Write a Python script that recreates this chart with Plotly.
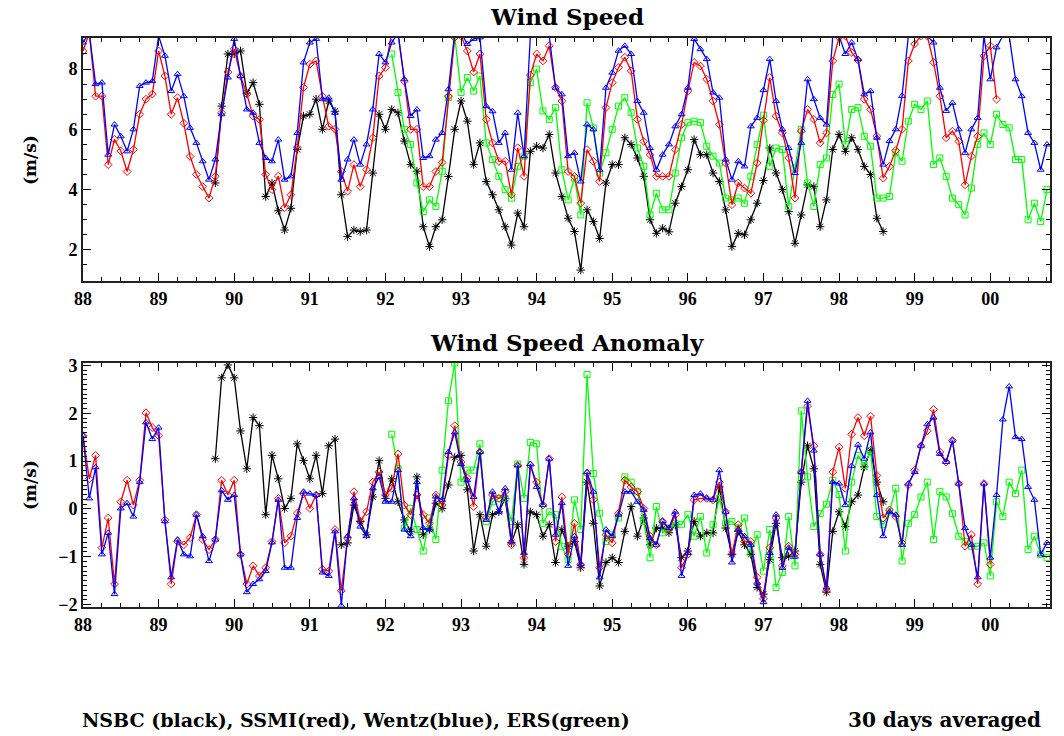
import numpy as np
import plotly.graph_objects as go

# ---------------- data (monthly, decimal-year axis) ----------------
years_ticks = list(range(88, 101))
tick_text = ["88", "89", "90", "91", "92", "93", "94", "95", "96", "97", "98", "99", "00"]

# start times (decimal year, 88 = 1988)
ssmi_start = 88.0
wentz_start = 88.0
nsbc_start = 89.75
ers_start = 92.0 + 1 / 12

# ---- Wind speed (m/s) ----
ssmi_ws = [
    8.6, 9.2, 7.1, 7.1, 4.83, 5.67, 5.28, 4.6, 5.33, 6.5, 7.0, 7.17,
    8.6, 7.77, 6.5, 7.05, 6.2, 5.1, 4.5, 4.1, 3.72, 4.44, 6.55, 7.9,
    8.67, 7.77, 7.17, 6.44, 6.33, 4.5, 4.0, 4.45, 3.4, 3.83, 5.39, 7.39,
    8.16, 8.27, 7.1, 6.1, 6.0, 4.6, 3.95, 4.83, 4.1, 4.66, 5.72, 7.77,
    8.05, 9.2, 9.2, 7.6, 6.0, 6.0, 4.1, 4.1, 4.6, 4.9, 7.1, 9.05,
    9.1, 8.6, 7.9, 8.5, 6.33, 5.55, 4.94, 4.94, 3.83, 5.39, 4.44, 7.8,
    8.5, 8.27, 8.77, 7.39, 6.94, 4.6, 4.44, 3.55, 5.33, 4.94, 4.27, 6.72,
    7.55, 8.05, 8.39, 7.94, 6.33, 5.6, 5.16, 4.44, 4.44, 4.44, 5.33, 6.16,
    7.27, 8.22, 8.1, 7.66, 6.94, 6.16, 4.88, 3.5, 4.22, 4.05, 3.88, 4.88,
    6.3, 7.72, 6.44, 5.88, 5.05, 3.72, 5.94, 6.66, 6.33, 5.55, 5.88, 8.27,
    9.05, 9.1, 8.55, 8.3, 7.0, 6.66, 5.77, 4.38, 4.77, 5.3, 6.0, 8.27,
    8.83, 9.1, 9.1, 8.22, 7.1, 5.72, 5.94, 5.6, 4.16, 5.11, 5.77, 8.44,
    8.77, 7.0,
]
wentz_ws = [
    8.88, 9.2, 7.5, 7.55, 5.16, 6.16, 5.77, 5.27, 6.0, 7.44, 7.55, 7.6,
    9.1, 8.44, 7.27, 7.83, 7.1, 6.05, 5.55, 4.94, 4.33, 5.0, 6.5, 7.72,
    9.0, 7.77, 6.66, 6.55, 5.55, 5.05, 4.94, 5.66, 4.33, 4.44, 5.88, 8.22,
    8.88, 9.0, 7.0, 7.05, 6.55, 4.33, 5.0, 5.66, 4.83, 5.5, 6.66, 8.5,
    8.22, 8.88, 9.2, 7.66, 6.44, 6.66, 5.05, 5.11, 5.66, 5.88, 7.33, 9.2,
    9.2, 8.83, 9.0, 9.05, 6.77, 6.6, 5.55, 5.88, 4.66, 6.55, 5.11, 9.1,
    9.1, 9.1, 9.1, 7.38, 7.16, 5.11, 5.22, 4.27, 6.16, 6.0, 4.66, 7.38,
    7.88, 8.61, 8.77, 8.5, 6.94, 6.55, 5.38, 4.66, 5.16, 5.5, 6.1, 6.5,
    7.38, 9.0, 8.66, 8.33, 7.22, 7.05, 5.0, 4.33, 4.94, 4.77, 6.1, 6.38,
    7.3, 8.33, 6.94, 6.0, 5.38, 4.55, 5.55, 7.66, 7.0, 6.38, 6.16, 9.1,
    9.1, 8.5, 8.88, 8.33, 7.16, 7.27, 5.72, 4.83, 5.61, 6.0, 7.11, 9.1,
    9.1, 9.1, 9.1, 8.88, 7.38, 6.61, 6.88, 6.0, 5.22, 6.0, 6.38, 9.1,
    7.66, 8.72, 9.1, 9.1, 7.66, 7.1, 5.88, 5.55, 4.66, 5.5,
]
nsbc_ws = [
    4.22, 6.77, 8.5,
    8.5, 8.6, 7.2, 7.55, 6.83, 3.77, 4.22, 3.3, 2.66, 3.38, 5.33, 6.44,
    6.5, 7.0, 6.0, 6.94, 6.6, 3.83, 2.44, 2.66, 2.61, 2.66, 4.55, 6.5,
    6.0, 6.66, 6.55, 5.61, 4.83, 4.61, 2.77, 2.11, 2.77, 3.0, 4.44, 6.0,
    6.94, 6.27, 4.83, 5.55, 4.27, 3.83, 3.33, 2.77, 2.16, 3.22, 2.77, 5.27,
    5.44, 5.38, 5.83, 4.55, 3.77, 3.05, 2.61, 1.33, 3.33, 2.94, 2.38, 4.22,
    4.83, 4.83, 5.72, 5.5, 5.05, 4.44, 3.0, 2.55, 2.72, 2.6, 3.55, 4.1,
    4.66, 5.66, 5.16, 5.16, 4.55, 4.27, 3.33, 2.11, 2.55, 2.5, 3.0, 3.55,
    4.3, 5.38, 4.55, 4.0, 3.27, 2.22, 3.16, 4.16, 4.1, 2.77, 3.66, 5.33,
    5.83, 5.27, 5.72, 5.33, 4.77, 4.5, 3.05, 2.61,
]
ers_ws = [
    8.5, 7.22, 6.0, 5.5, 4.22, 3.27, 3.66, 3.44, 4.61, 7.05, 9.1,
    7.22, 7.72, 7.27, 7.77, 5.55, 5.0, 4.44, 4.0, 3.72, 4.77, 5.11, 7.55,
    8.0, 6.61, 6.33, 6.72, 4.66, 3.66, 4.38, 3.16, 6.88, 6.05, 4.55, 5.22,
    6.0, 6.77, 7.05, 6.55, 5.38, 4.77, 3.16, 3.88, 3.33, 3.33, 4.55, 5.72,
    6.22, 6.27, 6.22, 5.44, 5.11, 4.88, 3.72, 3.66, 3.72, 3.55, 4.44, 5.5,
    6.47, 4.77, 5.38, 5.33, 3.44, 4.72, 6.0, 4.22, 3.44, 4.83, 5.05, 7.16,
    7.5, 5.5, 6.66, 6.72, 5.77, 5.44, 3.72, 3.72, 3.77, 5.22, 4.94, 6.27,
    6.83, 6.66, 6.94, 4.83, 5.05, 4.44, 3.72, 3.5, 3.16, 4.05, 5.5, 5.88,
    5.5, 6.5, 6.16, 6.05, 5.0, 5.0, 3.0, 3.55, 2.94, 4.0,
]

# ---- Wind speed anomaly (m/s) ----
ssmi_anom = [
    1.53, 0.63, 1.12, -0.81, -0.19, -1.57, 0.15, 0.6, 0.08, 0.6, 2.01, 1.7,
    1.53, -0.23, -1.57, -0.68, -0.75, -0.6, -0.12, -0.64, -0.85, -0.64, 0.6, 0.29,
    0.6, -0.95, -1.57, -1.19, -1.4, -1.23, -0.68, 0.22, -0.71, -0.57, -0.09, 0.32,
    0.01, 0.29, -1.26, -1.3, -0.43, -1.71, -0.61, 0.36, -0.26, -0.06, 0.56, 0.77,
    0.29, 0.43, 1.15, 0.08, -0.12, 0.29, -0.12, -0.3, 0.29, 0.08, 1.12, 1.74,
    0.98, 0.65, 0.05, 1.19, -0.19, 0.29, 0.22, 0.36, -0.75, 0.91, -1.02, 0.91,
    0.56, 0.08, 1.05, -0.68, 0.25, -0.95, -0.3, -1.16, 0.74, 0.19, -1.23, -0.54,
    -0.71, -0.09, 0.6, 0.46, 0.36, 0.01, -0.57, -0.75, -0.26, -0.43, -0.12, -1.23,
    -0.95, 0.19, 0.22, 0.22, 0.19, 0.56, -0.06, -0.95, -0.33, -0.68, -0.68, -1.43,
    -1.88, -0.81, -0.19, -1.19, -0.78, -0.95, 0.77, 2.15, 1.32, -0.95, -1.71, 0.77,
    1.29, 0.43, 1.56, 1.91, 1.53, 1.94, 0.7, -0.19, -0.02, -0.16, -0.71, 0.5,
    0.81, 1.32, 1.63, 2.08, 1.19, 0.98, 1.43, 0.53, -0.78, -0.54, -1.57, 0.53,
    -1.16,
]
wentz_anom = [
    1.53, 0.22, 0.87, -0.95, -0.5, -1.78, 0.01, 0.12, -0.16, 0.56, 1.81, 1.46,
    1.7, -0.26, -1.43, -0.64, -0.95, -0.99, -0.12, -0.57, -1.09, -0.64, 0.39, 0.19,
    0.29, -0.95, -1.74, -1.57, -1.47, -1.3, -0.7, 0.19, -1.23, -1.23, -0.19, 0.36,
    0.32, 0.29, -1.33, -1.4, -0.47, -2.02, -0.57, 0.22, -0.37, -0.57, 0.43, 0.67,
    0.15, 0.15, 0.81, -0.43, -0.57, 0.56, -0.4, -0.43, 0.26, 0.19, 1.19, 1.6,
    0.94, 0.6, 0.25, 1.19, -0.23, 0.36, -0.06, 0.43, -0.68, 0.91, -0.92, 0.94,
    0.46, 0.08, 1.05, -0.54, 0.12, -1.19, -0.57, -1.16, 0.77, 0.36, -1.43, -0.43,
    -0.57, -0.12, 0.36, 0.36, 0.15, -0.02, -0.61, -0.75, -0.26, -0.4, -0.06, -1.4,
    -0.92, 0.29, 0.32, 0.22, 0.19, 0.81, -0.06, -1.12, -0.43, -0.57, -0.75, -1.54,
    -1.95, -0.92, -0.12, -1.23, -0.81, -1.0, 0.77, 2.26, 1.22, -0.95, -1.64, 0.56,
    0.53, 0.08, 0.9, 1.34, 1.05, 1.6, 0.29, -0.57, -0.06, -0.12, -0.75, 0.53,
    0.77, 1.32, 1.77, 1.91, 1.15, 0.98, 1.43, 0.53, -0.4, -0.75, -1.43, 0.53,
    -1.02, 0.29, 1.87, 2.56, 1.5, 1.46, 0.46, 0.19, -0.95, -0.71,
]
nsbc_anom = [
    1.05, 2.74, 3.01,
    2.74, 1.63, 0.84, 1.91, 1.74, -0.12, 1.12, 0.63, 0.01, 0.22, 1.36, 1.01,
    0.63, 1.12, 0.32, 1.32, 1.46, -0.75, -0.71, 0.08, -0.26, -0.54, 0.25, 1.01,
    0.22, 0.63, 0.15, -0.23, -0.47, 0.67, -0.54, -0.43, 0.12, 0.01, 0.5, 1.08,
    1.12, 0.4, -0.88, -0.12, -0.78, -0.12, -0.06, 0.22, -0.71, -0.33, -1.16, -0.06,
    -0.12, -0.57, -0.33, -1.12, -0.43, -0.78, -0.68, -1.23, 0.56, -0.3, -1.61, -1.12,
    -1.02, -1.12, -0.47, 0.05, -0.57, -0.19, -0.75, -0.4, -0.4, -0.5, -0.33, -1.02,
    -0.88, -0.26, -0.57, -0.5, -0.5, 0.46, -0.4, -0.95, -0.47, -0.75, -0.95, -1.64,
    -1.78, -1.06, -0.3, -1.02, -0.99, -0.88, 0.56, 1.32, 0.84, -1.16, -1.74, -0.47,
    -0.06, -0.37, 0.15, 0.29, 0.88, 1.22, 0.56, 0.15,
]
ers_anom = [
    1.56, 0.84, -0.4, 0.01, -0.43, -0.88, -0.19, -0.64, 0.81, 2.26, 3.05,
    0.56, 0.81, 0.81, 1.36, -0.26, 0.15, 0.22, 0.22, -0.26, 0.94, 0.22, 1.39,
    1.36, -0.3, -0.06, -0.12, -0.78, -1.06, 0.19, -0.43, 2.81, 0.74, -0.09, -0.68,
    -0.54, -0.19, 0.67, 0.56, 0.36, -0.26, -1.02, 0.05, -0.5, -0.4, -0.3, -0.33,
    -0.12, -0.57, -0.16, -0.92, -0.33, 0.22, -0.3, -0.26, -0.4, -0.19, -0.92, -0.54,
    -1.3, -0.43, -1.64, -1.33, -0.16, -1.19, 2.05, 0.67, -0.37, -0.1, 0.1, 0.6,
    0.3, -0.88, 0.56, 1.12, 0.91, 1.22, -0.16, -0.33, -0.06, 0.43, -1.09, -0.3,
    -0.12, 0.25, 0.56, -0.64, 0.36, 0.25, -0.1, -0.57, -0.68, -0.78, -0.78, -0.71,
    -1.4, 0.15, -0.16, 0.56, 0.32, 0.81, -0.85, -0.57, -0.95, -1.02,
]


def months(start, values):
    return start + np.arange(len(values)) / 12.0


TICK_FONT = "Liberation Serif, DejaVu Serif, serif"
TEXT_FONT = "DejaVu Serif, Liberation Serif, serif"

series = [
    # name, start, speed, anomaly, color, symbol, size
    ("NSBC", nsbc_start, nsbc_ws, nsbc_anom, "#000000", "asterisk-open", 7),
    ("ERS", ers_start, ers_ws, ers_anom, "#00ff00", "square-open", 6),
    ("SSMI", ssmi_start, ssmi_ws, ssmi_anom, "#ff0000", "diamond-open", 6),
    ("Wentz", wentz_start, wentz_ws, wentz_anom, "#0000ff", "triangle-up-open", 6),
]

fig = go.Figure()
for name, start, ws, an, col, sym, sz in series:
    for vals, xa, ya in ((ws, "x", "y"), (an, "x2", "y2")):
        fig.add_trace(go.Scatter(
            x=months(start, vals), y=vals, xaxis=xa, yaxis=ya,
            mode="lines+markers", name=name, showlegend=False,
            line=dict(color=col, width=1.3),
            marker=dict(symbol=sym, size=sz, color=col, line=dict(color=col, width=1)),
        ))

tickfont = dict(family=TICK_FONT, size=18, color="black", weight="bold")
common_x = dict(
    range=[88, 100.79], tickmode="array", tickvals=years_ticks, ticktext=tick_text,
    ticks="inside", ticklen=8, tickwidth=1, tickcolor="black",
    showline=True, linecolor="#222222", linewidth=2, mirror="ticks",
    showgrid=False, zeroline=False, tickfont=tickfont,
    minor=dict(tickmode="linear", tick0=88, dtick=0.25, ticks="inside", ticklen=4,
               tickcolor="black", showgrid=False),
)
common_y = dict(
    ticks="inside", ticklen=8, tickwidth=1, tickcolor="black",
    showline=True, linecolor="#222222", linewidth=2, mirror="ticks",
    showgrid=False, zeroline=False, tickfont=tickfont,
)

fig.update_layout(
    width=1064, height=736,
    margin=dict(l=83, r=12, t=38, b=129),
    paper_bgcolor="white", plot_bgcolor="white",
    xaxis=dict(domain=[0, 1], anchor="y", **common_x),
    yaxis=dict(domain=[0.573, 1], anchor="x", range=[0.97, 9.03],
               tickmode="array", tickvals=[2, 4, 6, 8],
               minor=dict(tickmode="linear", tick0=1, dtick=0.5, ticks="inside",
                          ticklen=4, tickcolor="black", showgrid=False),
               **common_y),
    xaxis2=dict(domain=[0, 1], anchor="y2", **common_x),
    yaxis2=dict(domain=[0, 0.4288], anchor="x2", range=[-2.05, 3.05],
                tickmode="linear", tick0=0, dtick=1,
                minor=dict(tickmode="linear", tick0=0, dtick=0.1, ticks="inside",
                           ticklen=4, tickcolor="black", showgrid=False),
                **common_y),
)

ann_font = dict(family=TEXT_FONT, color="black", weight="bold")
for text, yy in (("Wind Speed", 1.037), ("Wind Speed Anomaly", 0.464)):
    fig.add_annotation(text=text, xref="paper", yref="paper", x=0.5, y=yy,
                       xanchor="center", yanchor="middle", showarrow=False,
                       font=dict(size=23, **ann_font))
for yy in (0.7856, 0.2144):
    fig.add_annotation(text="(m/s)", xref="paper", yref="paper", x=-0.0547, y=yy,
                       xanchor="center", yanchor="middle", textangle=-90, showarrow=False,
                       font=dict(size=17, **ann_font))
fig.add_annotation(text="NSBC (black), SSMI(red), Wentz(blue), ERS(green)",
                   xref="paper", yref="paper", x=-0.003, y=-0.1986,
                   xanchor="left", yanchor="middle", showarrow=False,
                   font=dict(size=19, **ann_font))
fig.add_annotation(text="30 days averaged", xref="paper", yref="paper", x=0.9928, y=-0.1986,
                   xanchor="right", yanchor="middle", showarrow=False,
                   font=dict(size=20, **ann_font))

# remove the browser's default 8px body margin so the figure fills the window exactly
fig.write_html("out.html",
               config={"displayModeBar": False},
               post_script="document.body.style.margin='0';document.body.style.overflow='hidden';")
